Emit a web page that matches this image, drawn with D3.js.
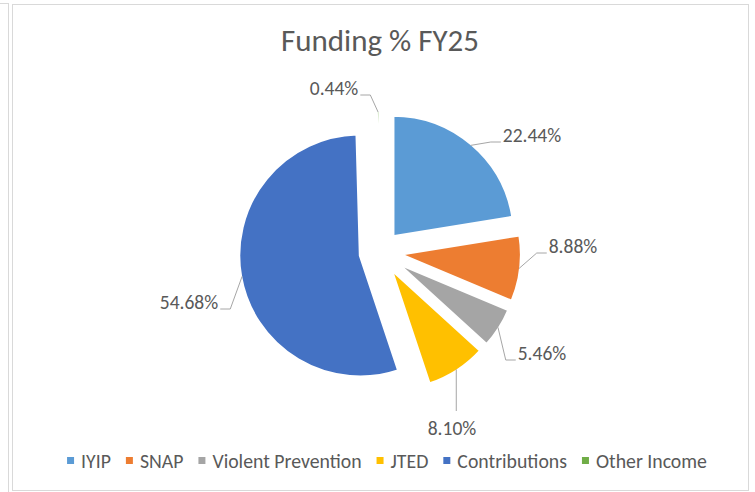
<!DOCTYPE html>
<html>
<head>
<meta charset="utf-8">
<script src="https://cdn.jsdelivr.net/npm/d3@7"></script>
<style>
  body { margin: 0; background: #fff; }
  svg text { font-family: Calibri, Carlito, Lato, sans-serif; fill: #595959; }
</style>
</head>
<body>
<svg id="chart" width="755" height="492"></svg>
<script>
// funding shares FY25
const categories = ["IYIP", "SNAP", "Violent Prevention", "JTED", "Contributions", "Other Income"];
const shares = [22.44, 8.88, 5.46, 8.10, 54.68, 0.44];
const colors = ["#5B9BD5", "#ED7D31", "#A5A5A5", "#FFC000", "#4472C4", "#70AD47"];

// where each data label sits, relative to the pie centre (baseline point)
const labelNudge = [[152, -110], [193, 1], [162, 108], [72, 183], [-191, 57], [-46, -157]];

const W = 755, H = 492;
const cx = 380, cy = 252, r = 121.5, explode = 20;

let svg = d3.select("#chart");

// sheet gridline behind + chart frame
svg.append("line").attr("x1", 8.5).attr("x2", 8.5).attr("y1", 3).attr("y2", H)
    .attr("stroke", "#d9d9d9");
svg.append("line").attr("x1", 0).attr("x2", 8.5).attr("y1", 3.5).attr("y2", 3.5)
    .attr("stroke", "#d9d9d9");
svg.append("rect").attr("x", 12.5).attr("y", 4.5).attr("width", 736).attr("height", 486)
    .attr("fill", "#fff").attr("stroke", "#d9d9d9");

svg.append("text")
    .attr("x", 380).attr("y", 51)
    .attr("text-anchor", "middle")
    .style("font-size", "31px")
    .text("Funding % FY25");

let pie = d3.pie().sort(null).value(d => d.v);
let arcs = pie(shares.map((v, i) => ({v: v, i: i})));
let arc = d3.arc().innerRadius(0).outerRadius(r);

function dir(a) { return [Math.sin(a), -Math.cos(a)]; }

let g = svg.append("g").attr("transform", `translate(${cx},${cy})`);

// white slice borders (Excel style) - thin slices nearly vanish under them
g.selectAll("path.slice")
    .data(arcs)
    .enter()
    .append("path")
    .attr("class", "slice")
    .attr("d", arc)
    .attr("fill", d => colors[d.data.i])
    .attr("stroke", "#fff")
    .attr("stroke-width", 3)
    .attr("stroke-linejoin", "round")
    .attr("transform", d => {
        let m = (d.startAngle + d.endAngle) / 2;
        let [dx, dy] = dir(m);
        return `translate(${dx * explode},${dy * explode})`;
    });

// data labels with leader lines
let labels = g.selectAll("g.lbl")
    .data(arcs)
    .enter()
    .append("g")
    .attr("class", "lbl");

labels.append("text")
    .attr("x", d => labelNudge[d.data.i][0])
    .attr("y", d => labelNudge[d.data.i][1])
    .attr("text-anchor", "middle")
    .style("font-size", "19.5px")
    .text(d => shares[d.data.i].toFixed(2) + "%");

labels.each(function(d) {
    let sel = d3.select(this);
    let box = sel.select("text").node().getBBox();
    let m = (d.startAngle + d.endAngle) / 2;
    let [ux, uy] = dir(m);
    let sx = ux * (explode + r - 1.5), sy = uy * (explode + r - 1.5);
    let base = labelNudge[d.data.i][1];
    let pts;
    if (sx < box.x - 2) {
        pts = [[sx, sy], [box.x - 12, base], [box.x - 2, base]];
    } else if (sx > box.x + box.width + 2) {
        pts = [[sx, sy], [box.x + box.width + 12, base], [box.x + box.width + 2, base]];
    } else if (sy < box.y) {
        pts = [[sx, sy], [sx, box.y - 5]];
    } else {
        pts = [[sx, sy], [sx, box.y + box.height + 5]];
    }
    sel.insert("path", "text")
        .attr("d", d3.line()(pts))
        .attr("fill", "none")
        .attr("stroke", "#a6a6a6")
        .attr("stroke-width", 1);
});

// legend
let legend = svg.append("g");
let items = legend.selectAll("g")
    .data(categories)
    .enter()
    .append("g");
items.append("rect")
    .attr("width", 7).attr("height", 7)
    .attr("y", 457)
    .attr("fill", (d, i) => colors[i]);
items.append("text")
    .attr("y", 468)
    .style("font-size", "19.8px")
    .text(d => d);

let widths = [];
items.select("text").each(function() { widths.push(this.getComputedTextLength()); });
let total = d3.sum(widths) + categories.length * 14 + (categories.length - 1) * 15;
let x0 = 387 - total / 2;
items.each(function(d, i) {
    let it = d3.select(this);
    it.select("rect").attr("x", x0);
    it.select("text").attr("x", x0 + 14);
    x0 += 14 + widths[i] + 15;
});
</script>
</body>
</html>
